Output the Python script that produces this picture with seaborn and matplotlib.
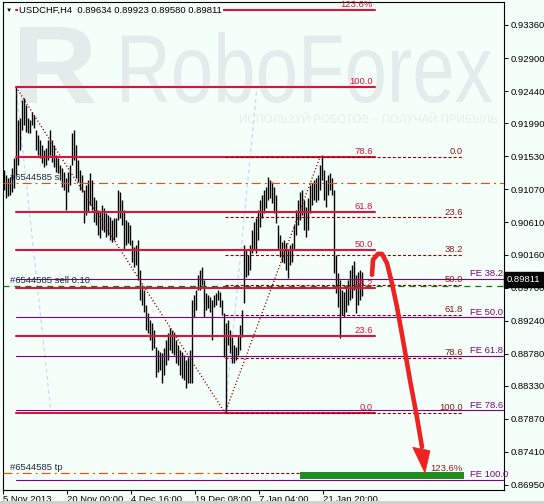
import numpy as np
import pandas as pd
import matplotlib.pyplot as plt
import seaborn as sns
from matplotlib.textpath import TextPath
from matplotlib.font_manager import FontProperties
from matplotlib.patches import PathPatch, Polygon, Rectangle
from matplotlib.transforms import Affine2D, IdentityTransform, blended_transform_factory

# ---- datos (USDCHF H4) ----
highs = [0.9134, 0.9127, 0.9123, 0.9124, 0.9137, 0.9151, 0.9250, 0.9204, 0.9206, 0.9231,
         0.9234, 0.9225, 0.9206, 0.9204, 0.9215, 0.9211, 0.9190, 0.9183, 0.9176, 0.9169,
         0.9162, 0.9165, 0.9176, 0.9190, 0.9176, 0.9169, 0.9155, 0.9151, 0.9141, 0.9137,
         0.9131, 0.9123, 0.9131, 0.9141, 0.9186, 0.9190, 0.9169, 0.9148, 0.9134, 0.9127,
         0.9106, 0.9113, 0.9120, 0.9130, 0.9120, 0.9096, 0.9092, 0.9078, 0.9075, 0.9085,
         0.9081, 0.9074, 0.9071, 0.9068, 0.9064, 0.9067, 0.9067, 0.9106, 0.9103, 0.9092,
         0.9078, 0.9064, 0.9061, 0.9057, 0.9036, 0.9027, 0.9029, 0.9036, 0.8995, 0.8974,
         0.8967, 0.8946, 0.8935, 0.8925, 0.8921, 0.8911, 0.8887, 0.8883, 0.8880, 0.8879,
         0.8886, 0.8897, 0.8907, 0.8914, 0.8911, 0.8908, 0.8897, 0.8890, 0.8883, 0.8880,
         0.8876, 0.8869, 0.8873, 0.8883, 0.8953, 0.8960, 0.8967, 0.8988, 0.8995, 0.8999,
         0.8981, 0.8963, 0.8960, 0.8957, 0.8953, 0.8960, 0.8963, 0.8967, 0.8964, 0.8953,
         0.8935, 0.8921, 0.8925, 0.8911, 0.8901, 0.8890, 0.8887, 0.8904, 0.8918, 0.8939,
         0.9029, 0.9022, 0.9015, 0.9029, 0.9050, 0.9061, 0.9067, 0.9078, 0.9092, 0.9099,
         0.9106, 0.9110, 0.9124, 0.9120, 0.9117, 0.9110, 0.9099, 0.9057, 0.9043, 0.9034,
         0.9036, 0.9032, 0.9022, 0.9029, 0.9032, 0.9057, 0.9078, 0.9092, 0.9103, 0.9106,
         0.9092, 0.9082, 0.9095, 0.9113, 0.9116, 0.9120, 0.9123, 0.9127, 0.9141, 0.9155,
         0.9134, 0.9120, 0.9127, 0.9130, 0.9123, 0.9106, 0.9015, 0.8990, 0.8981, 0.8967,
         0.8964, 0.8974, 0.8981, 0.8995, 0.9002, 0.9007, 0.8988, 0.8992, 0.8995, 0.8992]
lows = [0.9106, 0.9095, 0.9098, 0.9099, 0.9103, 0.9109, 0.9127, 0.9141, 0.9162, 0.9190,
        0.9197, 0.9187, 0.9186, 0.9186, 0.9197, 0.9192, 0.9162, 0.9155, 0.9151, 0.9144,
        0.9138, 0.9141, 0.9148, 0.9155, 0.9145, 0.9138, 0.9131, 0.9130, 0.9120, 0.9110,
        0.9106, 0.9078, 0.9103, 0.9113, 0.9141, 0.9148, 0.9123, 0.9117, 0.9106, 0.9103,
        0.9060, 0.9071, 0.9075, 0.9085, 0.9078, 0.9061, 0.9057, 0.9043, 0.9039, 0.9050,
        0.9048, 0.9041, 0.9043, 0.9036, 0.9034, 0.9036, 0.9041, 0.9064, 0.9067, 0.9057,
        0.9022, 0.9029, 0.9032, 0.9029, 0.9006, 0.8999, 0.9002, 0.8981, 0.8953, 0.8946,
        0.8936, 0.8911, 0.8907, 0.8897, 0.8883, 0.8886, 0.8845, 0.8852, 0.8855, 0.8837,
        0.8848, 0.8862, 0.8869, 0.8883, 0.8879, 0.8876, 0.8865, 0.8862, 0.8848, 0.8844,
        0.8841, 0.8830, 0.8837, 0.8837, 0.8837, 0.8929, 0.8939, 0.8967, 0.8967, 0.8974,
        0.8929, 0.8939, 0.8942, 0.8936, 0.8897, 0.8943, 0.8946, 0.8953, 0.8943, 0.8932,
        0.8873, 0.8795, 0.8890, 0.8879, 0.8865, 0.8865, 0.8869, 0.8876, 0.8883, 0.8901,
        0.8949, 0.8985, 0.8988, 0.8995, 0.9018, 0.9022, 0.9018, 0.9036, 0.9055, 0.9067,
        0.9074, 0.9081, 0.9092, 0.9095, 0.9088, 0.9074, 0.9060, 0.9022, 0.9013, 0.9006,
        0.9004, 0.8995, 0.8983, 0.9002, 0.9006, 0.9022, 0.9043, 0.9057, 0.9064, 0.9071,
        0.9050, 0.9041, 0.9050, 0.9074, 0.9085, 0.9092, 0.9089, 0.9092, 0.9106, 0.9120,
        0.9092, 0.9082, 0.9099, 0.9106, 0.9099, 0.8990, 0.8963, 0.8943, 0.8900, 0.8932,
        0.8929, 0.8936, 0.8946, 0.8953, 0.8956, 0.8967, 0.8935, 0.8946, 0.8953, 0.8958]
bar_idx = np.arange(1, 1 + 2 * len(highs), 2)  # una muestra cada 2 velas

tick_bars = [0, 64, 128, 192, 256, 320]
tick_dates = ["5 Nov 2013", "20 Nov 00:00", "4 Dec 16:00", "19 Dec 08:00", "7 Jan 04:00", "21 Jan 20:00"]
price_ticks = [0.93360, 0.92900, 0.92440, 0.91990, 0.91530, 0.91070, 0.90610, 0.90160,
               0.89700, 0.89240, 0.88780, 0.88330, 0.87870, 0.87410, 0.86950]

# Fibo 1 (retroceso grande), Fibo 2 (punteado), expansion FE
fib1_high, fib1_low, fib1_bars = 0.92496, 0.87953, (13, 222)
fib1_levels = [0.0, 23.6, 38.2, 50.0, 61.8, 78.6, 100.0, 123.6]
fib2_high, fib2_low, fib2_bars = 0.91520, 0.87953, (317, 222)
fib2_levels = [0.0, 23.6, 38.2, 50.0, 61.8, 78.6, 100.0, 123.6]
fe_top, fe_range = 0.91550, 0.04530
fe_levels = [38.2, 50.0, 61.8, 78.6, 100.0]

# orden abierta
order_id = "#6544585"
order_sl, order_open, order_tp = 0.9116, 0.8972, 0.8712
last_close = 0.89811
ohlc_title = "USDCHF,H4  0.89634 0.89923 0.89580 0.89811"
tp_zone_bars, tp_zone_prices = (297, 461), (0.87035, 0.87135)

# flecha de pronostico
arrow_bars = [369, 370, 375, 379, 384, 389, 394, 400, 407, 414, 419]
arrow_prices = [0.8988, 0.9009, 0.9017, 0.9017, 0.9004, 0.8976, 0.8943, 0.8897, 0.8841, 0.8789, 0.8748]
arrow_head_bars = [409.7, 427, 422]
arrow_head_prices = [0.87475, 0.87428, 0.87117]

# ---- estilo ----
bg = "#F5FFFA"
crimson = "#DC143C"
maroon = "#8B0000"
purple = "#800080"
sns.set_theme(style="white")
plt.rcParams['font.family'] = ['Liberation Sans', 'DejaVu Sans']
plt.rcParams['lines.scale_dashes'] = False
fs = 6.8

W, H = 544, 504
fig = plt.figure(figsize=(W / 100, H / 100), dpi=100, facecolor=bg)
ax = fig.add_axes([3 / W, (H - 489.5) / H, 501 / W, 487.5 / H])
ax.set_facecolor(bg)
fig.patches.append(Rectangle((0, 0), W, 3, transform=IdentityTransform(), fc="#D4D0C8", ec="none"))


def marca_agua(texto, x0, x1, ytop, ybot, weight="normal", color="#E3EBEB"):
    tp = TextPath((0, 0), texto, size=100, prop=FontProperties(family="Liberation Sans", weight=weight))
    bb = tp.get_extents()
    tr = Affine2D().translate(-bb.x0, -bb.y0).scale((x1 - x0) / bb.width, (ybot - ytop) / bb.height).translate(x0, H - ybot)
    ax.add_patch(PathPatch(tr.transform_path(tp), fc=color, ec="none", lw=0, transform=IdentityTransform(), zorder=0.5))


marca_agua("R", 20, 95, 27, 103, weight="bold")
marca_agua("RoboForex", 122, 492, 32, 103)
marca_agua("ИСПОЛЬЗУЙ РОБОТОВ – ПОЛУЧАЙ ПРИБЫЛЬ", 240, 497, 112, 123, color="#E6EDED")

# lineas lavanda tenues
ax.plot([13, 48], [fib1_high, fib1_low], color="#D2DAF2", lw=1, ls=(0, (2.9, 2.2)), zorder=1)
ax.plot([222, 254], [fib1_low, fib1_high], color="#D2DAF2", lw=1, ls=(0, (2.9, 2.2)), zorder=1)

# velas
velas = pd.DataFrame({"bar": bar_idx, "high": highs, "low": lows})
ax.vlines(velas["bar"], velas["low"], velas["high"], colors="black", lw=1.0, zorder=2)

# lineas de la orden
ax.axhline(order_sl, color="#FF4500", lw=0.8, ls=(0, (6.5, 2.9, 1.45, 2.9)), zorder=3)
ax.axhline(order_open, color="#008000", lw=0.9, ls=(0, (4.3, 3.6)), zorder=3)
ax.plot([0, fib2_bars[1]], [order_tp, order_tp], color="#FF4500", lw=0.8, ls=(0, (6.5, 2.9, 1.45, 2.9)), zorder=3)
lab_kw = dict(fontsize=fs, color="#1E2A44", ha="left", va="bottom", zorder=4)
ax.text(7, order_sl + 0.00012, order_id + " sl", **lab_kw)
ax.text(7, order_open + 0.00012, order_id + " sell 0.10", **lab_kw)
ax.text(7, order_tp + 0.00012, order_id + " tp", **lab_kw)

# expansion FE
for lv in fe_levels:
    p = fe_top - lv / 100 * fe_range
    ax.plot([13, 500], [p, p], color=purple, lw=0.8, zorder=3)
    ax.text(467, p + 0.00010, f"FE {lv:.1f}", fontsize=fs, color=purple, ha="left", va="bottom", zorder=4)

# fibo 1
ax.plot([fib1_bars[0], fib1_bars[1]], [fib1_high, fib1_low], color=maroon, lw=1, ls=(0, (0.8, 1.6)), zorder=3)
for lv in fib1_levels:
    p = fib1_low + lv / 100 * (fib1_high - fib1_low)
    ax.plot([13, 372], [p, p], color=crimson, lw=1.5, zorder=3)
    txt = f"{lv:.1f}%" if lv > 100 else f"{lv:.1f}"
    ax.text(370, p + 0.00012, txt, fontsize=fs, color=crimson, ha="right", va="bottom", zorder=4)

# fibo 2
ax.plot([fib2_bars[1], fib2_bars[0]], [fib2_low, fib2_high], color=maroon, lw=1, ls=(0, (0.8, 1.6)), zorder=3)
for lv in fib2_levels:
    p = fib2_high - lv / 100 * (fib2_high - fib2_low)
    ax.plot([222, 460], [p, p], color=maroon, lw=0.8, ls=(0, (2.2, 1.45)), zorder=3)
    txt = f"{lv:.1f}%" if lv > 100 else f"{lv:.1f}"
    ax.text(460, p + 0.00012, txt, fontsize=fs, color="#8B1A1A", ha="right", va="bottom", zorder=4)

# zona de take profit
ax.add_patch(Rectangle((tp_zone_bars[0], tp_zone_prices[0]), tp_zone_bars[1] - tp_zone_bars[0],
                       tp_zone_prices[1] - tp_zone_prices[0], fc="#228B22", ec="none", zorder=4))

# flecha
sns.lineplot(x=arrow_bars, y=arrow_prices, sort=False, estimator=None, color="#EE2222", lw=3.3,
             ax=ax, zorder=5, solid_capstyle="round")
ax.add_patch(Polygon(list(zip(arrow_head_bars, arrow_head_prices)), closed=True, fc="#EE2222", ec="#EE2222",
                     lw=0.5, zorder=5))

# ejes
ax.set_xlim(0, 501)
ax.set_ylim(0.868872, 0.936805)
for s in ax.spines.values():
    s.set_visible(True)
    s.set_color("black")
    s.set_linewidth(0.8)
ax.set_xticks(tick_bars, tick_dates)
ax.tick_params(axis="x", bottom=True, length=3, width=0.7, pad=1, labelsize=fs, colors="black", direction="out")
for lab in ax.get_xticklabels():
    lab.set_ha("left")
ax.yaxis.tick_right()
ax.set_yticks(price_ticks, [f"{p:.5f}" for p in price_ticks])
ax.tick_params(axis="y", right=True, length=3, width=0.7, pad=2, labelsize=fs, colors="black", direction="out")
ax.set_xlabel("")
ax.set_ylabel("")
ax.grid(False)

# titulo y precio actual
ax.text(0.006, 0.9836, "▼", transform=ax.transAxes, fontsize=4.5, color="black", va="center", ha="left", zorder=6)
ax.text(0.032, 0.9836, ohlc_title, transform=ax.transAxes, fontsize=fs, color="black", va="center", ha="left",
        zorder=6, bbox=dict(boxstyle="square,pad=0.1", fc=bg, ec="none"))
trans = blended_transform_factory(ax.transAxes, ax.transData)
ax.text(1.006, last_close, f"{last_close:.5f}", transform=trans, fontsize=fs, color="white", va="center", ha="left",
        zorder=7, clip_on=False, bbox=dict(boxstyle="square,pad=0.3", fc="black", ec="black"))

fig.savefig("out.png", dpi=100, facecolor=bg)
